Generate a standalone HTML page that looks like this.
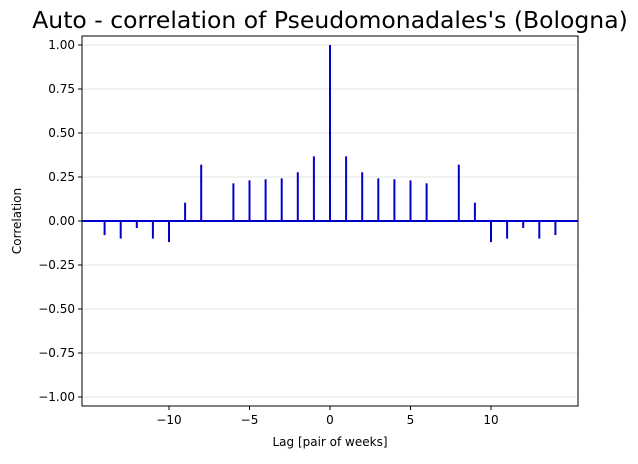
<!DOCTYPE html>
<html><head><meta charset="utf-8"><style>
body{margin:0;background:#fff;font-family:"Liberation Sans","DejaVu Sans",sans-serif;}
svg text{font-family:"DejaVu Sans","Liberation Sans",sans-serif;}
</style></head><body>
<svg id="chart" width="638" height="459" xmlns="http://www.w3.org/2000/svg">
<text x="330" y="28" font-size="23.5" text-anchor="middle" fill="#000">Auto - correlation of Pseudomonadales's (Bologna)</text>
<g id="grid"></g><g id="marks"></g><g id="axes"></g>
<text x="330" y="446" font-size="12" text-anchor="middle">Lag [pair of weeks]</text>
<text transform="translate(21,221) rotate(-90)" font-size="12" text-anchor="middle">Correlation</text>
</svg>
<script>
const lags=[-14,-13,-12,-11,-10,-9,-8,-7,-6,-5,-4,-3,-2,-1,0,1,2,3,4,5,6,7,8,9,10,11,12,13,14];
const corr=[-0.08,-0.10,-0.04,-0.10,-0.12,0.104,0.32,0,0.214,0.231,0.237,0.242,0.277,0.367,1.0,0.367,0.277,0.242,0.237,0.231,0.214,0,0.32,0.104,-0.12,-0.10,-0.04,-0.10,-0.08];
const xTicks=[-10,-5,0,5,10];
const yTicks=[-1,-0.75,-0.5,-0.25,0,0.25,0.5,0.75,1];
const L=82,R=578,T=36,B=406;
const xs=v=>330+(v)*16.1;
const ys=v=>221-v*176;
const NS="http://www.w3.org/2000/svg";
function mk(tag,attrs,parent){const e=document.createElementNS(NS,tag);for(const k in attrs)e.setAttribute(k,attrs[k]);document.getElementById(parent).appendChild(e);return e;}
yTicks.forEach(t=>{
 const g=mk('line',{x1:L,x2:R,y1:ys(t),y2:ys(t),stroke:'#e6e6e6','stroke-width':1},'grid');
 
 
 const tk=mk('line',{x1:L-4,x2:L,y1:ys(t),y2:ys(t),stroke:'#000'},'axes');
 
 
 const tx=mk('text',{x:L-7,y:ys(t)+4,'font-size':12,'text-anchor':'end'},'axes');
 tx.textContent=(t<0?'\u2212':'')+Math.abs(t).toFixed(2);
 
 
});
xTicks.forEach(t=>{
 const tk=mk('line',{x1:xs(t),x2:xs(t),y1:B,y2:B+4,stroke:'#000'},'axes');
 
 
 const tx=mk('text',{x:xs(t),y:B+18,'font-size':12,'text-anchor':'middle'},'axes');
 tx.textContent=(t<0?'\u2212':'')+Math.abs(t);
 
 
});
lags.forEach((l,i)=>{
 const b=mk('line',{x1:xs(l),x2:xs(l),y1:ys(0),y2:ys(corr[i]),stroke:'#0000cc','stroke-width':2},'marks');
 
 
});
const base=mk('line',{x1:L,x2:R,y1:ys(0),y2:ys(0),stroke:'#0000cc','stroke-width':2},'marks');


const fr=mk('rect',{x:L,y:T,width:R-L,height:B-T,fill:'none',stroke:'#000','stroke-width':1},'axes');


</script>
</body></html>
